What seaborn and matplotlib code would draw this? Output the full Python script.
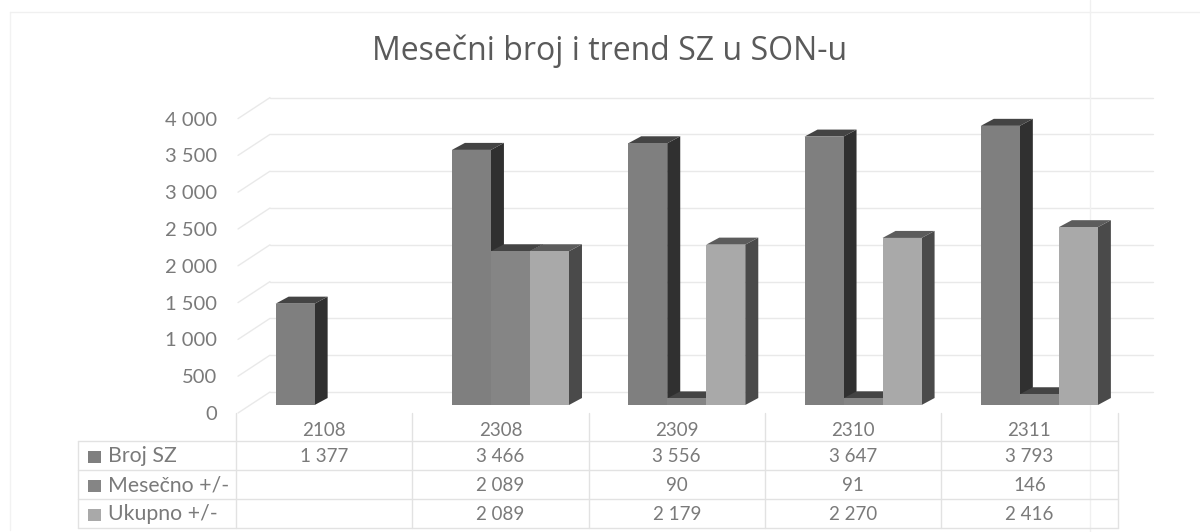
import pandas as pd
import matplotlib
matplotlib.use("Agg")
import matplotlib.pyplot as plt
from matplotlib.patches import Polygon, Rectangle
import seaborn as sns

months = ["2108", "2308", "2309", "2310", "2311"]
broj_sz = [1377, 3466, 3556, 3647, 3793]
mesecno = [None, 2089, 90, 91, 146]
ukupno = [None, 2089, 2179, 2270, 2416]
series_names = ["Broj SZ", "Mesečno +/-", "Ukupno +/-"]
y_ticks = [0, 500, 1000, 1500, 2000, 2500, 3000, 3500, 4000]

front_cols = ["#7f7f7f", "#858585", "#a9a9a9"]
side_cols = ["#303030", "#303030", "#4a4a4a"]
top_cols = ["#444444", "#444444", "#5c5c5c"]
text_col = "#7a7a7a"
grid_col = "#e9e9e9"
table_col = "#e2e2e2"

W, H = 1200, 532
sns.set_theme(style="white")
plt.rcParams["font.family"] = ["Lato", "DejaVu Sans"]


def fmt(v):
    if v is None:
        return ""
    return f"{v:,}".replace(",", " ")


df = pd.DataFrame({"month": months * 3,
                   "series": sum([[s] * 5 for s in series_names], []),
                   "value": broj_sz + mesecno + ukupno})
df["value"] = df["value"].astype(float)

fig = plt.figure(figsize=(12, 5.32), dpi=100)

# overlay in pixel coords for walls and table
bg = fig.add_axes([0, 0, 1, 1])
bg.set_xlim(0, W)
bg.set_ylim(H, 0)
bg.axis("off")

px_per_unit = 36.8 / 500
col_left, col_w = 236, 176.3
for v in y_ticks:
    back_y = 392 - v * px_per_unit
    front_y = 413 - v * px_per_unit
    bg.plot([270, 1153], [back_y, back_y], color=grid_col, lw=1)
    bg.plot([238, 270], [front_y, back_y], color=grid_col, lw=1)

# scan edges of the chart frame
bg.plot([10, 10], [12, 530], color="#f2f2f2", lw=1)
bg.plot([10, 1200], [12, 12], color="#f0f0f0", lw=1)
bg.plot([1090, 1090], [0, 532], color="#f0f0f0", lw=1)

bg.text(610, 51, "Mesečni broj i trend SZ u SON-u", ha="center", va="center",
        fontsize=23, color="#5a5a5a", family="Open Sans")

# bars: front plane, value 0 at y=405
ax_left = col_left + 10
ax_w = col_w * 5
base_px = 405
top_px = base_px - 4000 * px_per_unit
ax = fig.add_axes([ax_left / W, 1 - base_px / H, ax_w / W, (base_px - top_px) / H])
ax.patch.set_alpha(0)
sns.barplot(data=df, x="month", y="value", hue="series", order=months,
            hue_order=series_names, palette=front_cols, width=0.664, gap=0,
            saturation=1, legend=False, ax=ax, zorder=5, linewidth=0)
ax.set_xlim(-0.5, 4.5)
ax.set_ylim(0, 4000)
ax.set_xlabel("")
ax.set_ylabel("")
ax.set_xticks([])
ax.set_yticks([])
sns.despine(ax=ax, left=True, bottom=True)

# axis labels sit on the front edge of the floor, 8 px under the bar base
tick_ax = fig.add_axes([ax_left / W, 1 - (base_px + 8) / H, ax_w / W, (base_px - top_px) / H])
tick_ax.patch.set_alpha(0)
tick_ax.set_ylim(0, 4000)
tick_ax.set_xticks([])
tick_ax.set_yticks(y_ticks, [fmt(v) for v in y_ticks])
tick_ax.tick_params(axis="y", length=0, pad=21, labelsize=14.5, labelcolor=text_col)
sns.despine(ax=tick_ax, left=True, bottom=True)

# fake 3D depth built from the bars themselves
dx = 13 * 5 / ax_w
dy = 7 / px_per_unit
bars = sorted([b for b in ax.patches if b.get_height() > 0], key=lambda b: round(b.get_x(), 3))
for z, b in enumerate(bars):
    x0, x1 = b.get_x(), b.get_x() + b.get_width()
    h = b.get_height()
    shade = front_cols.index(matplotlib.colors.to_hex(b.get_facecolor()))
    ax.add_patch(Polygon([(x1, 0), (x1 + dx, dy), (x1 + dx, h + dy), (x1, h)],
                         facecolor=side_cols[shade], lw=0, zorder=2 + z * 0.01, clip_on=False))
    ax.add_patch(Polygon([(x0, h), (x0 + dx, h + dy), (x1 + dx, h + dy), (x1, h)],
                         facecolor=top_cols[shade], lw=0, zorder=2 + z * 0.01, clip_on=False))

# data table
tab_left, tab_top = 78, 441
row_h = 29
col_right = col_left + col_w * 5
rows = [broj_sz, mesecno, ukupno]
for i in range(len(rows) + 1):
    y = tab_top + i * row_h
    bg.plot([tab_left, col_right], [y, y], color=table_col, lw=1)
bg.plot([tab_left, tab_left], [tab_top, tab_top + 3 * row_h], color=table_col, lw=1)
for j in range(6):
    x = col_left + j * col_w
    bg.plot([x, x], [413, tab_top + 3 * row_h], color=table_col, lw=1)
for j, m in enumerate(months):
    bg.text(col_left + (j + 0.5) * col_w, 431, m, ha="center", va="center",
            fontsize=13.5, color=text_col)
for i, (name, vals) in enumerate(zip(series_names, rows)):
    y = tab_top + (i + 0.5) * row_h + 1
    bg.add_patch(Rectangle((88, y - 6), 13, 12, facecolor=front_cols[i], lw=0))
    bg.text(108, y, name, ha="left", va="center", fontsize=15.3, color=text_col)
    for j, v in enumerate(vals):
        bg.text(col_left + (j + 0.5) * col_w, y, fmt(v), ha="center", va="center",
                fontsize=13.5, color=text_col)

plt.savefig("out.png", dpi=100)
